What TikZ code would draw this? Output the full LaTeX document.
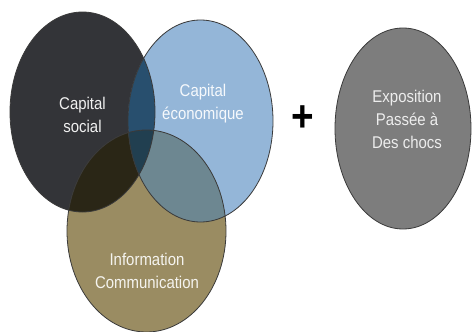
\documentclass[tikz,border=0pt]{standalone}
\usepackage{fontspec}
\newfontfamily\narrowsans[FakeStretch=0.88]{Liberation Sans}
\definecolor{darkfill}{HTML}{333438}
\definecolor{bluefill}{HTML}{94B6D8}
\definecolor{olivefill}{HTML}{9A8C62}
\definecolor{grayfill}{HTML}{7D7D7D}
\definecolor{darkblue}{HTML}{284F6E}
\definecolor{darkolive}{HTML}{2A2616}
\definecolor{blueolive}{HTML}{6D8791}
\definecolor{triple}{HTML}{213F50}
\definecolor{edgecol}{HTML}{3A3A3A}
\begin{document}
\begin{tikzpicture}[x=1pt,y=-1pt,
  lbl/.style={font=\narrowsans\fontsize{17}{23}\selectfont, align=center, inner sep=0pt},
  edge/.style={draw=edgecol, line width=0.8pt}]
\useasboundingbox (0,0) rectangle (472,332);
% shape paths
\def\darkE{(82.5,112) ellipse [x radius=72.5pt, y radius=100pt]}
\def\blueE{(200.5,121) ellipse [x radius=72.5pt, y radius=101pt]}
\def\oliveE{(146.5,231) ellipse [x radius=79.5pt, y radius=101pt]}
% fills
\fill[darkfill] \darkE;
\fill[bluefill] \blueE;
\fill[olivefill] \oliveE;
\begin{scope}
  \clip \darkE;
  \fill[darkblue] \blueE;
  \fill[darkolive] \oliveE;
  \clip \blueE;
  \fill[triple] \oliveE;
\end{scope}
\begin{scope}
  \clip \blueE;
  \clip \oliveE;
  \fill[blueolive] \darkE -- cycle (0,0) rectangle (472,332);
\end{scope}
\begin{scope}
  \clip \darkE;
  \clip \blueE;
  \fill[triple] \oliveE;
\end{scope}
% outlines
\draw[edge] \darkE;
\draw[edge] \blueE;
\draw[edge] \oliveE;
% gray ellipse
\draw[edge, fill=grayfill] (403,128.5) ellipse [x radius=68pt, y radius=100.5pt];
% texts
\node[lbl, text=white!94!black] (social) at (82.5,115) {Capital\\social};
\node[lbl, text=white!92!bluefill] (eco) at (203,104) {Capital\\économique};
\node[lbl, text=white!90!olivefill] (info) at (147,271) {Information\\Communication};
\node[lbl, text=white!93!black] (expo) at (407,119) {Exposition\\Passée à\\Des chocs};
\node[font=\narrowsans\bfseries\fontsize{44}{44}\selectfont, inner sep=0pt] (plus) at (303,119) {+};
\end{tikzpicture}
\end{document}
